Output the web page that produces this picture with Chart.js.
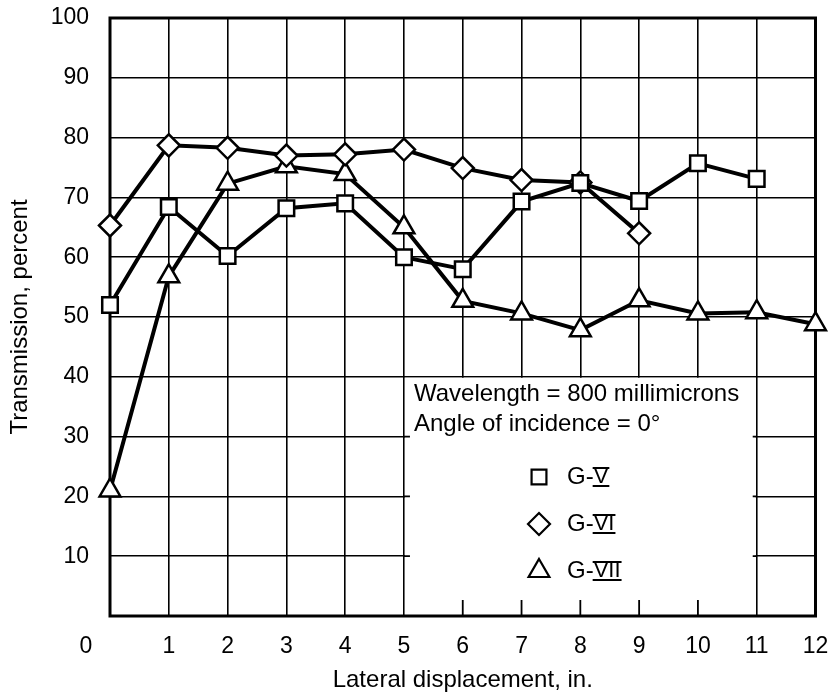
<!DOCTYPE html>
<html>
<head>
<meta charset="utf-8">
<script src="https://cdn.jsdelivr.net/npm/chart.js@4/dist/chart.umd.min.js"></script>
<style>
  html, body { margin: 0; padding: 0; background: #fff; }
  #wrap { width: 830px; height: 696px; position: relative; }
</style>
</head>
<body>
<div id="wrap"><canvas id="chart"></canvas></div>
<script>
  // lateral displacement, in.
  const positions = [0, 1, 2, 3, 4, 5, 6, 7, 8, 9, 10, 11, 12];
  // transmission, percent
  const gV   = [52, 68.4, 60.2, 68.2, 69, 60, 58, 69.3, 72.4, 69.4, 75.7, 73.1, null];
  const gVI  = [65.3, 78.7, 78.3, 77, 77.2, 78, 74.9, 72.9, 72.5, 64, null, null, null];
  const gVII = [21, 56.8, 72.3, 75.2, 73.9, 65, 52.7, 50.6, 47.8, 52.8, 50.6, 50.8, 48.8];

  const xTicks = [0, 1, 2, 3, 4, 5, 6, 7, 8, 9, 10, 11, 12];
  const yTicks = [0, 10, 20, 30, 40, 50, 60, 70, 80, 90, 100];

  const seriesNames = ['G-', 'G-', 'G-'];
  const seriesNumerals = ['V', 'VI', 'VII'];
  const notes = ['Wavelength = 800 millimicrons', 'Angle of incidence = 0\u00B0'];

  const SANS = "'Liberation Sans', Arial, sans-serif";
  const TICK_SIZE = 23;

  function toPoints(vals) {
    return positions.map((p, i) => ({ x: p, y: vals[i] })).filter(pt => pt.y !== null);
  }

  function series(vals, style, r) {
    return {
      data: toPoints(vals),
      borderColor: '#000',
      borderWidth: 4,
      pointStyle: style,
      pointRadius: r,
      pointHoverRadius: r,
      pointBorderWidth: 2.5,
      pointBackgroundColor: '#fff',
      pointBorderColor: '#000',
      tension: 0,
      clip: false
    };
  }

  // white note box in the lower right, frame, extra labels
  const notesPlugin = {
    id: 'notes',
    beforeDatasetsDraw(chart) {
      const { ctx, chartArea, scales: { x, y } } = chart;
      const l = x.getPixelForValue(5), r = x.getPixelForValue(11);
      const t = y.getPixelForValue(40), b = y.getPixelForValue(0);
      ctx.save();
      ctx.fillStyle = '#fff';
      ctx.fillRect(l + 1, t + 1, r - l - 2, b - t - 2);
      ctx.strokeStyle = '#000';
      ctx.lineWidth = 1.8;
      ctx.beginPath();
      for (let v = 6; v <= 10; v++) {
        const px = x.getPixelForValue(v);
        ctx.moveTo(px, b);
        ctx.lineTo(px, b - 16);
      }
      for (const v of [10, 20, 30]) {
        const py = y.getPixelForValue(v);
        ctx.moveTo(l, py); ctx.lineTo(l + 6, py);
        ctx.moveTo(r, py); ctx.lineTo(r - 4, py);
      }
      ctx.stroke();
      ctx.lineWidth = 3;
      ctx.strokeRect(chartArea.left, chartArea.top, chartArea.right - chartArea.left, chartArea.bottom - chartArea.top);
      ctx.restore();
    },
    afterDatasetsDraw(chart) {
      const { ctx, chartArea, scales: { x, y } } = chart;
      ctx.save();
      ctx.fillStyle = '#000';
      ctx.strokeStyle = '#000';

      // shared origin label
      ctx.font = TICK_SIZE + 'px ' + SANS;
      ctx.textAlign = 'center';
      ctx.textBaseline = 'middle';
      ctx.fillText('0', chartArea.left - 24, chartArea.bottom + 17 + TICK_SIZE * 0.6);

      // conditions
      ctx.font = '24px ' + SANS;
      ctx.textAlign = 'left';
      ctx.fillText(notes[0], x.getPixelForValue(5) + 10, y.getPixelForValue(37));
      ctx.fillText(notes[1], x.getPixelForValue(5) + 10, y.getPixelForValue(32));

      // key
      const styles = [['rect', 10.5], ['rectRot', 11], ['triangle', 12]];
      const keyY = [477, 524, 571];
      styles.forEach(([ps, rad], i) => {
        ctx.lineWidth = 2.2;
        ctx.fillStyle = '#fff';
        Chart.helpers.drawPoint(ctx, { pointStyle: ps, radius: rad, borderWidth: 2.2, rotation: 0 }, 539, keyY[i]);
        ctx.fillStyle = '#000';
        ctx.font = '24px ' + SANS;
        ctx.textBaseline = 'middle';
        ctx.fillText(seriesNames[i], 567, keyY[i]);
        const nx = 567 + ctx.measureText(seriesNames[i]).width;
        ctx.font = '22px ' + SANS;
        ctx.fillText(seriesNumerals[i], nx, keyY[i]);
        const w = ctx.measureText(seriesNumerals[i]).width;
        ctx.lineWidth = 2;
        ctx.beginPath();
        ctx.moveTo(nx - 1, keyY[i] - 9); ctx.lineTo(nx + w + 1, keyY[i] - 9);
        ctx.moveTo(nx - 1, keyY[i] + 9); ctx.lineTo(nx + w + 1, keyY[i] + 9);
        ctx.stroke();
      });
      ctx.restore();
    }
  };

  new Chart(document.getElementById('chart'), {
    type: 'line',
    data: {
      datasets: [
        series(gV, 'rect', 11),
        series(gVI, 'rectRot', 11),
        series(gVII, 'triangle', 12)
      ]
    },
    options: {
      responsive: true,
      maintainAspectRatio: false,
      animation: false,
      events: [],
      layout: { padding: { top: 18, right: 12, left: 0, bottom: 0 } },
      plugins: { legend: { display: false }, tooltip: { enabled: false } },
      scales: {
        x: {
          type: 'linear',
          min: 0,
          max: 12,
          afterBuildTicks: s => { s.ticks = xTicks.map(v => ({ value: v })); },
          afterFit: s => { s.height = 80; s.paddingLeft = 0; s.paddingRight = 0; },
          grid: { color: '#000', lineWidth: 1.6, drawTicks: false },
          border: { display: false },
          ticks: {
            color: '#000',
            padding: 17,
            maxRotation: 0,
            font: { family: SANS, size: TICK_SIZE },
            callback: v => (v === 0 ? '' : String(v))
          },
          title: {
            display: true,
            text: 'Lateral displacement, in.',
            color: '#000',
            font: { family: SANS, size: 24 },
            padding: { top: 0, bottom: 1 }
          }
        },
        y: {
          min: 0,
          max: 100,
          afterBuildTicks: s => { s.ticks = yTicks.map(v => ({ value: v })); },
          afterFit: s => { s.width = 110; s.paddingTop = 0; s.paddingBottom = 0; },
          grid: { color: '#000', lineWidth: 1.6, drawTicks: false },
          border: { display: false },
          ticks: {
            color: '#000',
            padding: 21,
            font: { family: SANS, size: TICK_SIZE },
            callback: v => (v === 0 ? '' : String(v))
          },
          title: {
            display: true,
            text: 'Transmission, percent',
            color: '#000',
            font: { family: SANS, size: 24 },
            padding: { top: 6, bottom: 0 }
          }
        }
      }
    },
    plugins: [notesPlugin]
  });
</script>
</body>
</html>
